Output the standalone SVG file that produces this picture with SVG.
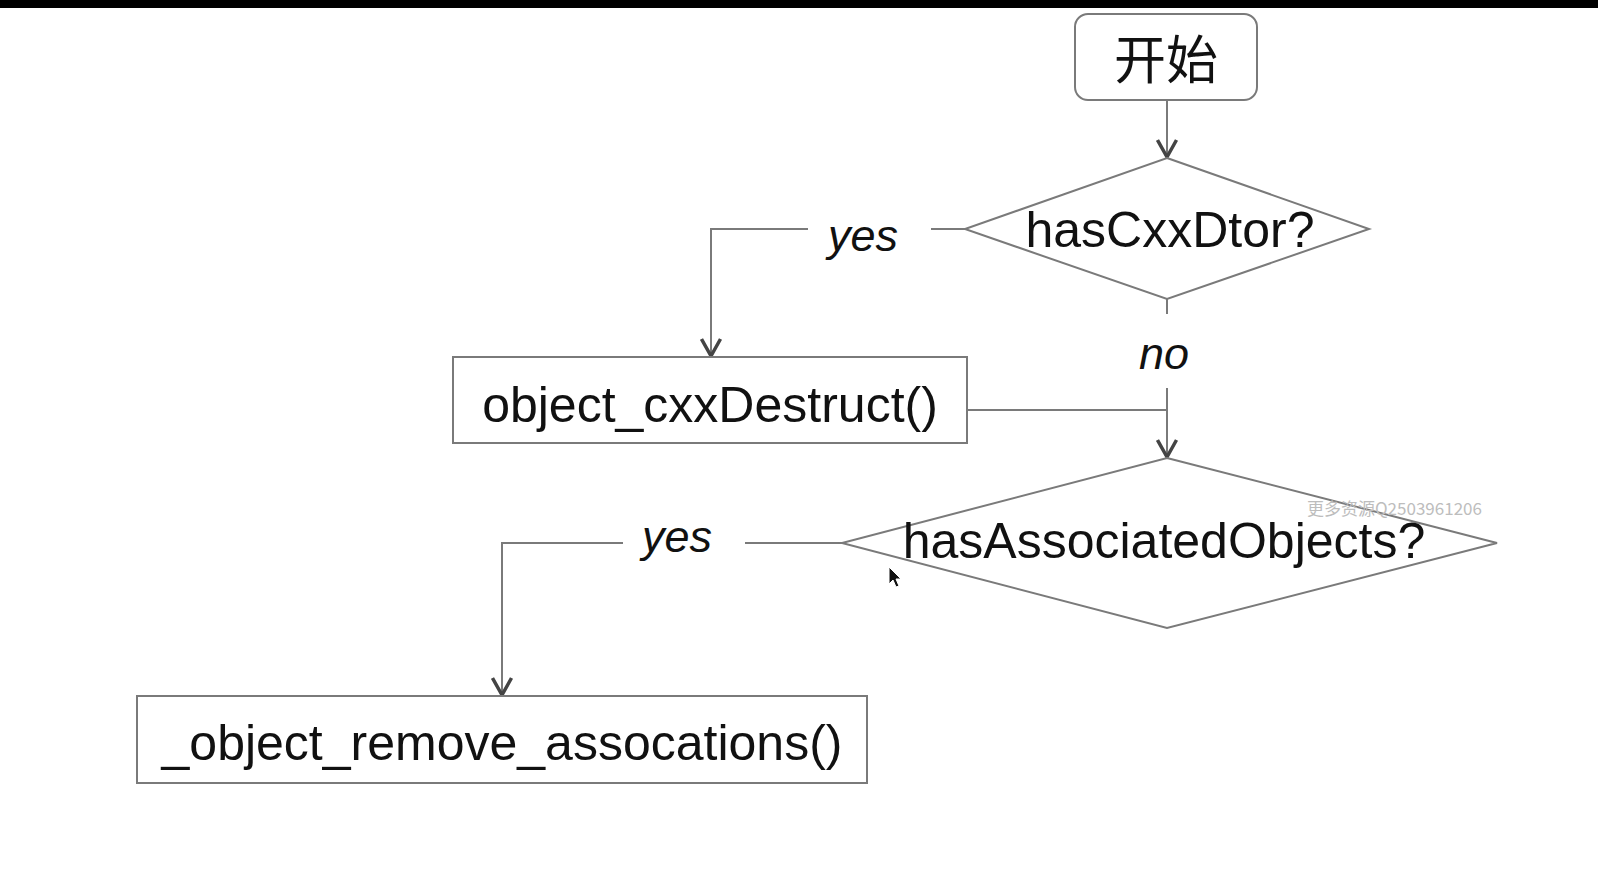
<svg xmlns="http://www.w3.org/2000/svg" width="1598" height="870" viewBox="0 0 1598 870">
<style>
.box{fill:#fff;stroke:#7a7a7a;stroke-width:2}
.lbl{font-family:"Liberation Sans",Arial,"Noto Sans CJK SC",sans-serif;font-size:50px;fill:#111;text-anchor:middle}
.cjk{font-family:"Noto Sans CJK SC",sans-serif;font-size:52px;fill:#111;text-anchor:middle}
.edge{fill:none;stroke:#7a7a7a;stroke-width:2}
.elbl{font-family:"Liberation Sans",Arial,sans-serif;font-size:45px;font-style:italic;fill:#111;text-anchor:middle}
.wm{font-family:"Noto Sans CJK SC",sans-serif;font-size:17px;fill:#bdbdbd}
</style>
<defs>
<marker id="arr" markerWidth="24" markerHeight="24" refX="11" refY="20" orient="0" markerUnits="userSpaceOnUse" viewBox="0 0 24 24">
<path d="M1.5 3 L11 20 L20.5 3" fill="none" stroke="#444" stroke-width="3.5"/>
</marker>
</defs>
<rect x="0" y="0" width="1598" height="8" fill="#000"/>
<rect x="0" y="8" width="1598" height="862" fill="#fff"/>

<g id="connectors">
<path class="edge" d="M1167 100 V157" marker-end="url(#arr)"/>
<path class="edge" d="M965 229 H931"/>
<path class="edge" d="M808 229 H711 V356" marker-end="url(#arr)"/>
<path class="edge" d="M1167 299 V314"/>
<path class="edge" d="M1167 388 V457" marker-end="url(#arr)"/>
<path class="edge" d="M967 410 H1167"/>
<path class="edge" d="M842 543 H745"/>
<path class="edge" d="M623 543 H502 V695" marker-end="url(#arr)"/>
<text class="elbl" x="863" y="251">yes</text>
<text class="elbl" x="1164" y="369">no</text>
<text class="elbl" x="677" y="552">yes</text>
</g>

<g id="start">
<rect class="box" x="1075" y="14" width="182" height="86" rx="13"/>
<text class="cjk" x="1166" y="79">开始</text>
</g>

<g id="hasCxxDtor">
<polygon class="box" points="1167,158 1369,229 1167,299 965,229"/>
<text class="lbl" x="1170" y="247">hasCxxDtor?</text>
</g>

<g id="cxxDestruct">
<rect class="box" x="453" y="357" width="514" height="86"/>
<text class="lbl" x="710" y="422">object_cxxDestruct()</text>
</g>

<g id="hasAssociatedObjects">
<polygon class="box" points="1167,458 1497,543 1167,628 842,543"/>
<text class="lbl" x="1164" y="558">hasAssociatedObjects?</text>
</g>

<g id="removeAssocations">
<rect class="box" x="137" y="696" width="730" height="87"/>
<text class="lbl" x="502" y="760">_object_remove_assocations()</text>
</g>

<text class="wm" x="1307" y="515">更多资源Q2503961206</text>
<path d="M889 567 L889 584 L893 580 L896 587 L899 586 L896 579 L901 579 Z" fill="#111" stroke="#fff" stroke-width="1"/>
</svg>
